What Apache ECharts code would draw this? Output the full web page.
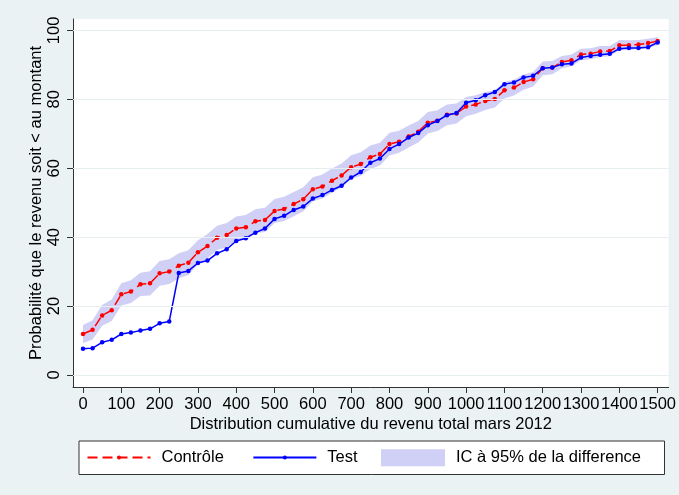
<!DOCTYPE html>
<html>
<head>
<meta charset="utf-8">
<script src="https://cdn.jsdelivr.net/npm/echarts@6/dist/echarts.min.js"></script>
<style>
html,body{margin:0;padding:0;background:#eaf2f3;}
#chart{width:679px;height:495px;}
</style>
</head>
<body>
<div id="chart"></div>
<script>
const xValues = [0,25,50,75,100,125,150,175,200,225,250,275,300,325,350,375,400,425,450,475,500,525,550,575,600,625,650,675,700,725,750,775,800,825,850,875,900,925,950,975,1000,1025,1050,1075,1100,1125,1150,1175,1200,1225,1250,1275,1300,1325,1350,1375,1400,1425,1450,1475,1500];
const controle = [11.9,13.1,17.3,18.8,23.4,24.2,26.3,26.6,29.5,30.0,31.7,32.6,35.6,37.4,39.8,40.6,42.5,42.9,44.6,45.0,47.6,48.2,49.6,51.0,53.9,54.7,56.4,57.9,60.3,61.2,63.2,64.1,67.0,67.7,69.2,70.6,73.2,73.8,75.5,75.9,77.9,78.5,79.5,80.1,82.6,83.4,85.0,85.8,89.0,89.2,90.8,91.3,93.0,93.2,93.9,94.0,95.7,95.7,95.9,96.3,96.9];
const test = [7.6,7.8,9.5,10.2,11.9,12.3,12.9,13.4,15.0,15.5,29.6,30.2,32.5,33.2,35.3,36.5,38.9,39.7,41.3,42.5,45.3,46.2,47.9,48.9,51.2,52.2,53.7,54.9,57.3,58.9,61.6,62.8,65.6,67.0,68.9,70.2,72.5,73.7,75.4,76.0,79.0,79.7,81.2,82.1,84.4,84.9,86.3,86.8,89.0,89.2,90.2,90.4,92.1,92.6,92.9,93.2,94.7,94.9,94.9,95.1,96.5];
// half-width of the 95% CI band around the control curve
const ciHalfWidth = [2.6,2.8,3.0,3.1,3.2,3.3,3.4,3.5,3.6,3.6,3.6,3.6,3.5,3.5,3.5,3.5,3.5,3.5,3.5,3.5,3.5,3.5,3.5,3.5,3.5,3.5,3.5,3.5,3.5,3.4,3.4,3.3,3.3,3.2,3.2,3.1,3.1,3.0,3.0,2.9,2.8,2.7,2.6,2.5,2.4,2.3,2.2,2.1,2.0,1.9,1.8,1.7,1.7,1.6,1.6,1.5,1.5,1.4,1.3,1.3,1.2];
const xTicks = [0,100,200,300,400,500,600,700,800,900,1000,1100,1200,1300,1400,1500];
const yTicks = [0,20,40,60,80,100];

const FONT = '"Liberation Sans", Arial, Helvetica, sans-serif';
const BAND = '#d0d0f6';
const bandData = xValues.map((x,i)=>[x, controle[i]-ciHalfWidth[i], controle[i]+ciHalfWidth[i]]);
const ctrlData = xValues.map((x,i)=>[x, controle[i]]);
const testData = xValues.map((x,i)=>[x, test[i]]);

const chart = echarts.init(document.getElementById('chart'), null, {renderer:'canvas'});
chart.setOption({
  backgroundColor: '#eaf2f3',
  animation: false,
  textStyle: {fontFamily: FONT},
  grid: {left:73, right:10, top:19, bottom:108, show:true, backgroundColor:'#ffffff', borderWidth:0},
  xAxis: {
    type:'value', min:-26.1, max:1528.7,
    axisLine:{show:true, onZero:false, lineStyle:{color:'#333', width:1}},
    axisTick:{show:true, customValues:xTicks, length:6, lineStyle:{color:'#333'}},
    axisLabel:{customValues:xTicks, fontSize:16.5, color:'#000', margin:9, fontFamily:FONT,
      hideOverlap:false, formatter:v=>String(v)},
    splitLine:{show:false},
    name:'Distribution cumulative du revenu total mars 2012',
    nameLocation:'middle', nameGap:29, nameMoveOverlap:false,
    nameTextStyle:{fontSize:16.5, color:'#000', fontFamily:FONT}
  },
  yAxis: {
    type:'value', min:-3.48, max:103.3,
    axisLine:{show:true, onZero:false, lineStyle:{color:'#333', width:1}},
    axisTick:{show:true, customValues:yTicks, length:6, lineStyle:{color:'#333'}},
    axisLabel:{customValues:yTicks, rotate:90, fontSize:16.5, color:'#000', margin:10, fontFamily:FONT,
      formatter:v=>String(v)},
    splitLine:{show:false},
    name:'Probabilité que le revenu soit < au montant',
    nameLocation:'middle', nameRotate:90, nameGap:28, nameMoveOverlap:false,
    nameTextStyle:{fontSize:16.5, color:'#000', fontFamily:FONT}
  },
  legend: [
    {
      data:['Contrôle','Test'], left:86.5, top:449, padding:0,
      itemWidth:63, itemHeight:5, itemGap:28.5,
      textStyle:{fontSize:16.5, color:'#000', fontFamily:FONT, padding:[0,0,0,6]}
    },
    {
      data:[{name:'IC à 95% de la difference', icon:'rect', itemStyle:{color:BAND}}], left:381, top:449.3, padding:0,
      itemWidth:64, itemHeight:17,
      textStyle:{fontSize:16.5, color:'#000', fontFamily:FONT, padding:[0,0,0,6]}
    }
  ],
  graphic: [{
    type:'rect', left:78.5, top:440.5, z:-1, silent:true,
    shape:{width:585.5, height:33.5},
    style:{fill:'#ffffff', stroke:'#333', lineWidth:1}
  }],
  series: [
    {
      name:'grid', type:'line', data:[], z:1, silent:true,
      markLine:{silent:true, symbol:['none','none'], label:{show:false},
        lineStyle:{color:'#e6eef0', width:1, type:'solid'},
        data: yTicks.map(v=>({yAxis:v}))}
    },
    {
      name:'IC à 95% de la difference', type:'custom', data:bandData, z:2, silent:true,
      color:BAND, itemStyle:{color:BAND},
      encode:{x:0, y:[1,2]},
      renderItem:function(params, api){
        if (params.dataIndex !== 0) return null;
        const upper = [], lower = [];
        for (let i = 0; i < bandData.length; i++) {
          upper.push(api.coord([bandData[i][0], bandData[i][2]]));
          lower.push(api.coord([bandData[i][0], bandData[i][1]]));
        }
        return {
          type:'polygon',
          shape:{points: upper.concat(lower.reverse())},
          style:{fill:BAND, stroke:null}
        };
      }
    },
    {
      name:'Contrôle', type:'line', data:ctrlData, z:3,
      color:'#ff0000', symbol:'circle', symbolSize:4.5, showSymbol:true,
      lineStyle:{color:'#ff0000', width:1.5, type:[10,5]},
      itemStyle:{color:'#ff0000'}
    },
    {
      name:'Test', type:'line', data:testData, z:4,
      color:'#0000ff', symbol:'circle', symbolSize:4.5, showSymbol:true,
      lineStyle:{color:'#0000ff', width:1.5, type:'solid'},
      itemStyle:{color:'#0000ff'}
    }
  ]
});
</script>
</body>
</html>
